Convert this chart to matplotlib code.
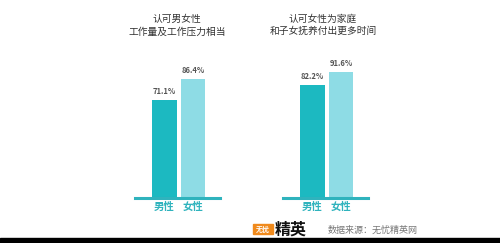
import matplotlib
matplotlib.use('Agg')
import matplotlib.pyplot as plt
from matplotlib.patches import Rectangle

plt.rcParams['font.family'] = ['Noto Sans CJK SC', 'DejaVu Sans']

titles = ['认可男女性\n工作量及工作压力相当', '认可女性为家庭\n和子女抚养付出更多时间']
genders = ['男性', '女性']
values_1 = [71.1, 86.4]
values_2 = [82.2, 91.6]
panel_values = [values_1, values_2]

bar_colors = ['#1CB9C1', '#8EDCE5']
teal = '#2FB3BD'

W, H = 500, 243
fig = plt.figure(figsize=(5, 2.43), dpi=100)

base_y = (H - 198) / H
ax_h = 137.8 / H
panel_left = [135, 283]

for i in range(2):
    ax = fig.add_axes([panel_left[i] / W, base_y, 85 / W, ax_h])
    bars = ax.bar([0, 1], panel_values[i], width=0.86, color=bar_colors)
    ax.set_xlim(-1.03, 1.95)
    ax.set_ylim(0, 100)
    for s in ['top', 'right', 'left']:
        ax.spines[s].set_visible(False)
    ax.spines['bottom'].set_color(teal)
    ax.spines['bottom'].set_linewidth(2.2)
    ax.set_yticks([])
    ax.set_xticks([0, 1])
    ax.set_xticklabels(genders, fontsize=7.5, color=teal, fontweight='bold')
    ax.tick_params(axis='x', length=0, pad=2.5)
    for b, v in zip(bars, panel_values[i]):
        ax.text(b.get_x() + b.get_width() / 2, v + 3, f'{v}%', ha='center', va='bottom',
                fontsize=5.5, fontweight='bold', color='#555555')
    ax.patch.set_alpha(0)
    # title above panel
    cx = 177 if i == 0 else 323
    fig.text(cx / W, (H - 25) / H, titles[i], ha='center', va='center', fontsize=7,
             color='#333333', linespacing=1.35)

# bottom black strip
fig.patches.append(Rectangle((0, 0), 1, 5 / H, transform=fig.transFigure,
                             color='black', zorder=5))

# logo and source
fig.patches.append(Rectangle((253 / W, (H - 234) / H), 20 / W, 10 / H,
                             transform=fig.transFigure, color='#F08A1C', zorder=5))
fig.text(263 / W, (H - 229) / H, '无忧', ha='center', va='center', fontsize=5,
         color='white', fontweight='bold', zorder=6)
fig.text(291 / W, (H - 230) / H, '精英', ha='center', va='center', fontsize=11.5,
         color='#111111', fontweight='bold')
fig.text(328 / W, (H - 230) / H, '数据来源：无忧精英网', ha='left', va='center',
         fontsize=6.5, color='#777777')

fig.savefig('out.png', dpi=100, facecolor='white')
